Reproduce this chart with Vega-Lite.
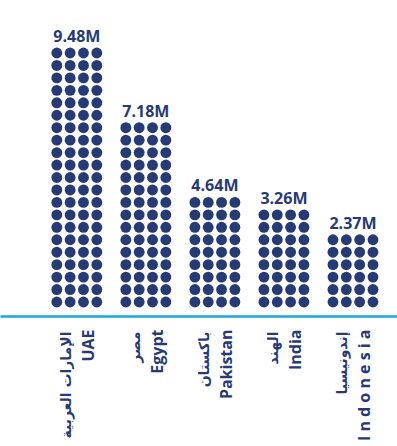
{
  "$schema": "https://vega.github.io/schema/vega-lite/v6.json",
  "width": 397,
  "height": 316,
  "autosize": {"type": "none"},
  "padding": {"left": 0, "top": 0, "right": 0, "bottom": 130},
  "background": "#ffffff",
  "config": {"view": {"stroke": null}},
  "resolve": {"axis": {"x": "independent"}},
  "datasets": {
    "totals": [
      {"country": "UAE", "label": "9.48M", "rows": 21},
      {"country": "Egypt", "label": "7.18M", "rows": 15},
      {"country": "Pakistan", "label": "4.64M", "rows": 9},
      {"country": "India", "label": "3.26M", "rows": 8},
      {"country": "Indonesia", "label": "2.37M", "rows": 6}
    ],
    "dots": [
      {"country":"UAE","col":0,"row":1},{"country":"UAE","col":1,"row":1},{"country":"UAE","col":2,"row":1},{"country":"UAE","col":3,"row":1},
      {"country":"UAE","col":0,"row":2},{"country":"UAE","col":1,"row":2},{"country":"UAE","col":2,"row":2},{"country":"UAE","col":3,"row":2},
      {"country":"UAE","col":0,"row":3},{"country":"UAE","col":1,"row":3},{"country":"UAE","col":2,"row":3},{"country":"UAE","col":3,"row":3},
      {"country":"UAE","col":0,"row":4},{"country":"UAE","col":1,"row":4},{"country":"UAE","col":2,"row":4},{"country":"UAE","col":3,"row":4},
      {"country":"UAE","col":0,"row":5},{"country":"UAE","col":1,"row":5},{"country":"UAE","col":2,"row":5},{"country":"UAE","col":3,"row":5},
      {"country":"UAE","col":0,"row":6},{"country":"UAE","col":1,"row":6},{"country":"UAE","col":2,"row":6},{"country":"UAE","col":3,"row":6},
      {"country":"UAE","col":0,"row":7},{"country":"UAE","col":1,"row":7},{"country":"UAE","col":2,"row":7},{"country":"UAE","col":3,"row":7},
      {"country":"UAE","col":0,"row":8},{"country":"UAE","col":1,"row":8},{"country":"UAE","col":2,"row":8},{"country":"UAE","col":3,"row":8},
      {"country":"UAE","col":0,"row":9},{"country":"UAE","col":1,"row":9},{"country":"UAE","col":2,"row":9},{"country":"UAE","col":3,"row":9},
      {"country":"UAE","col":0,"row":10},{"country":"UAE","col":1,"row":10},{"country":"UAE","col":2,"row":10},{"country":"UAE","col":3,"row":10},
      {"country":"UAE","col":0,"row":11},{"country":"UAE","col":1,"row":11},{"country":"UAE","col":2,"row":11},{"country":"UAE","col":3,"row":11},
      {"country":"UAE","col":0,"row":12},{"country":"UAE","col":1,"row":12},{"country":"UAE","col":2,"row":12},{"country":"UAE","col":3,"row":12},
      {"country":"UAE","col":0,"row":13},{"country":"UAE","col":1,"row":13},{"country":"UAE","col":2,"row":13},{"country":"UAE","col":3,"row":13},
      {"country":"UAE","col":0,"row":14},{"country":"UAE","col":1,"row":14},{"country":"UAE","col":2,"row":14},{"country":"UAE","col":3,"row":14},
      {"country":"UAE","col":0,"row":15},{"country":"UAE","col":1,"row":15},{"country":"UAE","col":2,"row":15},{"country":"UAE","col":3,"row":15},
      {"country":"UAE","col":0,"row":16},{"country":"UAE","col":1,"row":16},{"country":"UAE","col":2,"row":16},{"country":"UAE","col":3,"row":16},
      {"country":"UAE","col":0,"row":17},{"country":"UAE","col":1,"row":17},{"country":"UAE","col":2,"row":17},{"country":"UAE","col":3,"row":17},
      {"country":"UAE","col":0,"row":18},{"country":"UAE","col":1,"row":18},{"country":"UAE","col":2,"row":18},{"country":"UAE","col":3,"row":18},
      {"country":"UAE","col":0,"row":19},{"country":"UAE","col":1,"row":19},{"country":"UAE","col":2,"row":19},{"country":"UAE","col":3,"row":19},
      {"country":"UAE","col":0,"row":20},{"country":"UAE","col":1,"row":20},{"country":"UAE","col":2,"row":20},{"country":"UAE","col":3,"row":20},
      {"country":"UAE","col":0,"row":21},{"country":"UAE","col":1,"row":21},{"country":"UAE","col":2,"row":21},{"country":"UAE","col":3,"row":21},
      {"country":"Egypt","col":0,"row":1},{"country":"Egypt","col":1,"row":1},{"country":"Egypt","col":2,"row":1},{"country":"Egypt","col":3,"row":1},
      {"country":"Egypt","col":0,"row":2},{"country":"Egypt","col":1,"row":2},{"country":"Egypt","col":2,"row":2},{"country":"Egypt","col":3,"row":2},
      {"country":"Egypt","col":0,"row":3},{"country":"Egypt","col":1,"row":3},{"country":"Egypt","col":2,"row":3},{"country":"Egypt","col":3,"row":3},
      {"country":"Egypt","col":0,"row":4},{"country":"Egypt","col":1,"row":4},{"country":"Egypt","col":2,"row":4},{"country":"Egypt","col":3,"row":4},
      {"country":"Egypt","col":0,"row":5},{"country":"Egypt","col":1,"row":5},{"country":"Egypt","col":2,"row":5},{"country":"Egypt","col":3,"row":5},
      {"country":"Egypt","col":0,"row":6},{"country":"Egypt","col":1,"row":6},{"country":"Egypt","col":2,"row":6},{"country":"Egypt","col":3,"row":6},
      {"country":"Egypt","col":0,"row":7},{"country":"Egypt","col":1,"row":7},{"country":"Egypt","col":2,"row":7},{"country":"Egypt","col":3,"row":7},
      {"country":"Egypt","col":0,"row":8},{"country":"Egypt","col":1,"row":8},{"country":"Egypt","col":2,"row":8},{"country":"Egypt","col":3,"row":8},
      {"country":"Egypt","col":0,"row":9},{"country":"Egypt","col":1,"row":9},{"country":"Egypt","col":2,"row":9},{"country":"Egypt","col":3,"row":9},
      {"country":"Egypt","col":0,"row":10},{"country":"Egypt","col":1,"row":10},{"country":"Egypt","col":2,"row":10},{"country":"Egypt","col":3,"row":10},
      {"country":"Egypt","col":0,"row":11},{"country":"Egypt","col":1,"row":11},{"country":"Egypt","col":2,"row":11},{"country":"Egypt","col":3,"row":11},
      {"country":"Egypt","col":0,"row":12},{"country":"Egypt","col":1,"row":12},{"country":"Egypt","col":2,"row":12},{"country":"Egypt","col":3,"row":12},
      {"country":"Egypt","col":0,"row":13},{"country":"Egypt","col":1,"row":13},{"country":"Egypt","col":2,"row":13},{"country":"Egypt","col":3,"row":13},
      {"country":"Egypt","col":0,"row":14},{"country":"Egypt","col":1,"row":14},{"country":"Egypt","col":2,"row":14},{"country":"Egypt","col":3,"row":14},
      {"country":"Egypt","col":0,"row":15},{"country":"Egypt","col":1,"row":15},{"country":"Egypt","col":2,"row":15},{"country":"Egypt","col":3,"row":15},
      {"country":"Pakistan","col":0,"row":1},{"country":"Pakistan","col":1,"row":1},{"country":"Pakistan","col":2,"row":1},{"country":"Pakistan","col":3,"row":1},
      {"country":"Pakistan","col":0,"row":2},{"country":"Pakistan","col":1,"row":2},{"country":"Pakistan","col":2,"row":2},{"country":"Pakistan","col":3,"row":2},
      {"country":"Pakistan","col":0,"row":3},{"country":"Pakistan","col":1,"row":3},{"country":"Pakistan","col":2,"row":3},{"country":"Pakistan","col":3,"row":3},
      {"country":"Pakistan","col":0,"row":4},{"country":"Pakistan","col":1,"row":4},{"country":"Pakistan","col":2,"row":4},{"country":"Pakistan","col":3,"row":4},
      {"country":"Pakistan","col":0,"row":5},{"country":"Pakistan","col":1,"row":5},{"country":"Pakistan","col":2,"row":5},{"country":"Pakistan","col":3,"row":5},
      {"country":"Pakistan","col":0,"row":6},{"country":"Pakistan","col":1,"row":6},{"country":"Pakistan","col":2,"row":6},{"country":"Pakistan","col":3,"row":6},
      {"country":"Pakistan","col":0,"row":7},{"country":"Pakistan","col":1,"row":7},{"country":"Pakistan","col":2,"row":7},{"country":"Pakistan","col":3,"row":7},
      {"country":"Pakistan","col":0,"row":8},{"country":"Pakistan","col":1,"row":8},{"country":"Pakistan","col":2,"row":8},{"country":"Pakistan","col":3,"row":8},
      {"country":"Pakistan","col":0,"row":9},{"country":"Pakistan","col":1,"row":9},{"country":"Pakistan","col":2,"row":9},{"country":"Pakistan","col":3,"row":9},
      {"country":"India","col":0,"row":1},{"country":"India","col":1,"row":1},{"country":"India","col":2,"row":1},{"country":"India","col":3,"row":1},
      {"country":"India","col":0,"row":2},{"country":"India","col":1,"row":2},{"country":"India","col":2,"row":2},{"country":"India","col":3,"row":2},
      {"country":"India","col":0,"row":3},{"country":"India","col":1,"row":3},{"country":"India","col":2,"row":3},{"country":"India","col":3,"row":3},
      {"country":"India","col":0,"row":4},{"country":"India","col":1,"row":4},{"country":"India","col":2,"row":4},{"country":"India","col":3,"row":4},
      {"country":"India","col":0,"row":5},{"country":"India","col":1,"row":5},{"country":"India","col":2,"row":5},{"country":"India","col":3,"row":5},
      {"country":"India","col":0,"row":6},{"country":"India","col":1,"row":6},{"country":"India","col":2,"row":6},{"country":"India","col":3,"row":6},
      {"country":"India","col":0,"row":7},{"country":"India","col":1,"row":7},{"country":"India","col":2,"row":7},{"country":"India","col":3,"row":7},
      {"country":"India","col":0,"row":8},{"country":"India","col":1,"row":8},{"country":"India","col":2,"row":8},{"country":"India","col":3,"row":8},
      {"country":"Indonesia","col":0,"row":1},{"country":"Indonesia","col":1,"row":1},{"country":"Indonesia","col":2,"row":1},{"country":"Indonesia","col":3,"row":1},
      {"country":"Indonesia","col":0,"row":2},{"country":"Indonesia","col":1,"row":2},{"country":"Indonesia","col":2,"row":2},{"country":"Indonesia","col":3,"row":2},
      {"country":"Indonesia","col":0,"row":3},{"country":"Indonesia","col":1,"row":3},{"country":"Indonesia","col":2,"row":3},{"country":"Indonesia","col":3,"row":3},
      {"country":"Indonesia","col":0,"row":4},{"country":"Indonesia","col":1,"row":4},{"country":"Indonesia","col":2,"row":4},{"country":"Indonesia","col":3,"row":4},
      {"country":"Indonesia","col":0,"row":5},{"country":"Indonesia","col":1,"row":5},{"country":"Indonesia","col":2,"row":5},{"country":"Indonesia","col":3,"row":5},
      {"country":"Indonesia","col":0,"row":6},{"country":"Indonesia","col":1,"row":6},{"country":"Indonesia","col":2,"row":6},{"country":"Indonesia","col":3,"row":6}
    ]
  },
  "layer": [
    {
      "data": {"name": "dots"},
      "mark": {"type": "circle", "size": 118, "opacity": 1, "color": "#263a75"},
      "encoding": {
        "x": {
          "field": "country",
          "type": "nominal",
          "sort": ["UAE", "Egypt", "Pakistan", "India", "Indonesia"],
          "scale": {"domain": ["UAE", "Egypt", "Pakistan", "India", "Indonesia"], "paddingInner": 0, "paddingOuter": 0.375, "align": 0.817},
          "axis": {
            "title": null,
            "orient": "bottom",
            "labelAngle": -90,
            "labelAlign": "right",
            "labelBaseline": "middle",
            "labelFont": "DejaVu Sans",
            "labelFontWeight": "bold",
            "labelFontSize": 14,
            "labelColor": "#263a75",
            "labelPadding": 15,
            "labelOffset": -10,
            "labelLimit": 300,
            "labelOverlap": false,
            "ticks": false,
            "tickSize": 0,
            "domainColor": "#1aa7df",
            "domainWidth": 2.5,
            "labelExpr": "datum.value == 'UAE' ? 'الإمارات العربية' : datum.value == 'Egypt' ? 'مصر' : datum.value == 'Pakistan' ? 'باكستان' : datum.value == 'India' ? 'الهند' : 'إندونيسيا'"
          }
        },
        "xOffset": {
          "field": "col",
          "type": "quantitative",
          "scale": {"domain": [0, 3], "range": [14.5, 54.5], "zero": false, "nice": false}
        },
        "y": {
          "field": "row",
          "type": "quantitative",
          "scale": {"domain": [-0.1245, 25.257], "zero": false, "nice": false},
          "axis": null
        }
      }
    },
    {
      "data": {"name": "totals"},
      "mark": {"type": "text", "font": "Open Sans", "fontWeight": "bold", "fontSize": 16, "color": "#263a75", "baseline": "alphabetic", "dy": -11},
      "encoding": {
        "x": {
          "field": "country",
          "type": "nominal",
          "sort": ["UAE", "Egypt", "Pakistan", "India", "Indonesia"],
          "axis": {
            "title": null,
            "orient": "bottom",
            "labelAngle": -90,
            "labelAlign": "right",
            "labelBaseline": "middle",
            "labelFont": "Open Sans",
            "labelFontWeight": "bold",
            "labelFontSize": 16,
            "labelColor": "#263a75",
            "labelPadding": 13,
            "labelOffset": 12,
            "labelLimit": 300,
            "labelOverlap": false,
            "ticks": false,
            "tickSize": 0,
            "domain": false,
            "labelExpr": "datum.value == 'Indonesia' ? 'I n d o n e s i a' : datum.value"
          }
        },
        "y": {"field": "rows", "type": "quantitative"},
        "text": {"field": "label"}
      }
    }
  ]
}
